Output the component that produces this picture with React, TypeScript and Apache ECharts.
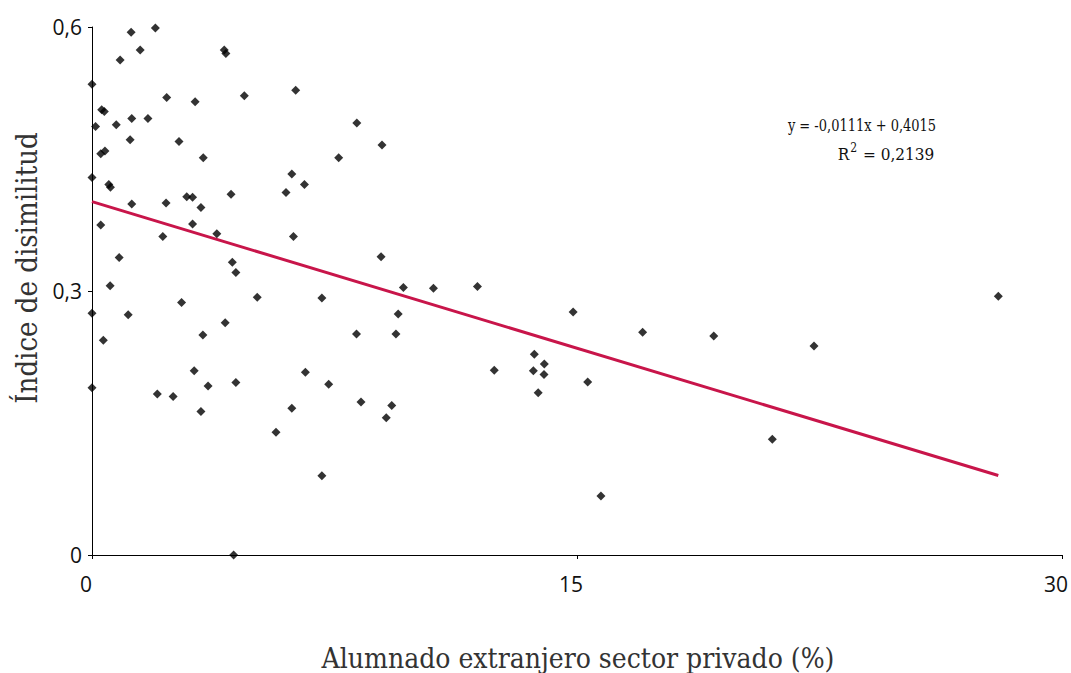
import React, { useEffect, useRef } from "react";
import * as echarts from "echarts";

const pointsX = [
  1.21, 1.96, 1.49, 0.87, 4.09, 4.14, 0.0, 2.31, 3.19, 4.71,
  0.3, 0.38, 0.11, 0.75, 1.23, 1.73, 1.18, 2.69, 0.27, 0.4,
  3.44, 0.0, 0.52, 0.57, 2.93, 3.11, 4.3, 1.23, 2.29, 3.37,
  0.27, 3.11, 2.19, 3.86, 0.84, 4.34, 4.45, 0.56, 5.11, 0.0,
  1.12, 2.77, 4.12, 0.35, 3.43, 3.16, 0.0, 2.02, 2.51, 3.59,
  4.45, 3.37, 4.38, 6.3, 8.19, 8.97, 7.63, 6.18, 6.57, 6.0,
  6.23, 8.94, 9.63, 10.56, 7.11, 9.47, 8.18, 9.4, 6.6, 7.32,
  6.18, 5.69, 8.32, 9.27, 9.1, 7.11, 11.92, 14.88, 17.03, 13.68,
  13.99, 13.65, 13.98, 12.44, 13.8, 15.33, 15.74, 19.23, 22.33, 28.03,
  21.04,
];
const pointsY = [
  0.594, 0.599, 0.574, 0.5625, 0.574, 0.57, 0.535, 0.52, 0.515, 0.522,
  0.506, 0.504, 0.487, 0.489, 0.496, 0.496, 0.472, 0.47, 0.456, 0.459,
  0.4515, 0.429, 0.421, 0.418, 0.407, 0.4065, 0.41, 0.399, 0.4, 0.395,
  0.375, 0.376, 0.362, 0.365, 0.338, 0.3326, 0.321, 0.306, 0.293, 0.2747,
  0.273, 0.287, 0.264, 0.244, 0.25, 0.2094, 0.19, 0.183, 0.18, 0.192,
  0.196, 0.163, 0.0, 0.528, 0.491, 0.466, 0.4515, 0.433, 0.421, 0.412,
  0.362, 0.339, 0.304, 0.303, 0.292, 0.274, 0.251, 0.251, 0.2076, 0.194,
  0.1667, 0.1394, 0.174, 0.17, 0.156, 0.09, 0.305, 0.276, 0.253, 0.228,
  0.217, 0.2094, 0.205, 0.21, 0.1844, 0.1966, 0.067, 0.249, 0.2375, 0.294,
  0.1315,
];

const trendSlope = -0.0111;
const trendIntercept = 0.4015;
const trendXStart = 0;
const trendXEnd = 28.03;
const equationText = "y = -0,0111x + 0,4015";
const r2Value = "0,2139";

const xTicks = [0, 15, 30];
const yTicks = [0, 0.3, 0.6];

const xTitle = "Alumnado extranjero sector privado (%)";
const yTitle = "Índice de disimilitud";

export default function App() {
  const ref = useRef<HTMLDivElement>(null);
  useEffect(() => {
    if (!ref.current) return;
    const chart = echarts.init(ref.current, undefined, { renderer: "svg" });
    const scatterData = pointsX.map((x, i) => [x, pointsY[i]]);
    const trendData = [
      [trendXStart, trendIntercept + trendSlope * trendXStart],
      [trendXEnd, trendIntercept + trendSlope * trendXEnd],
    ];
    const fmt = (v: number) => String(v).replace(".", ",");
    const serif = "'DejaVu Serif Condensed', 'DejaVu Serif', serif";
    const tickFont = "'Open Sans', 'Noto Sans', sans-serif";
    chart.setOption({
      animation: false,
      backgroundColor: "#ffffff",
      grid: { left: 92, top: 27, right: 4, bottom: 118, containLabel: false },
      xAxis: {
        type: "value",
        min: xTicks[0],
        max: xTicks[xTicks.length - 1],
        interval: 15,
        axisLine: { show: true, lineStyle: { color: "#000", width: 1 } },
        axisTick: { show: true, length: 4, lineStyle: { color: "#000" } },
        splitLine: { show: false },
        axisLabel: {
          color: "#111",
          fontSize: 21,
          fontFamily: tickFont,
          margin: 18,
          padding: [0, 12, 0, 0],
          formatter: fmt,
        },
      },
      yAxis: {
        type: "value",
        min: yTicks[0],
        max: yTicks[yTicks.length - 1],
        interval: 0.3,
        axisLine: { show: true, lineStyle: { color: "#000", width: 1 } },
        axisTick: { show: true, length: 4, lineStyle: { color: "#000" } },
        splitLine: { show: false },
        axisLabel: {
          color: "#111",
          fontSize: 21,
          fontFamily: tickFont,
          margin: 10,
          formatter: fmt,
        },
      },
      series: [
        {
          type: "line",
          data: trendData,
          symbol: "none",
          lineStyle: { color: "#C8154A", width: 3 },
          z: 1,
          silent: true,
        },
        {
          type: "scatter",
          data: scatterData,
          symbol: "diamond",
          symbolSize: 9,
          itemStyle: { color: "#000" },
          z: 2,
        },
      ],
      graphic: [
        {
          type: "text",
          x: 578,
          y: 644,
          style: {
            text: xTitle,
            fill: "#333",
            font: `28px ${serif}`,
            textAlign: "center",
            textVerticalAlign: "top",
          },
        },
        {
          type: "text",
          x: 27,
          y: 268,
          rotation: Math.PI / 2,
          style: {
            text: yTitle,
            fill: "#333",
            font: `29px ${serif}`,
            textAlign: "center",
            textVerticalAlign: "middle",
          },
        },
        {
          type: "text",
          x: 862,
          y: 125,
          scaleX: 0.85,
          style: {
            text: equationText,
            fill: "#111",
            font: `17px ${serif}`,
            textAlign: "center",
            textVerticalAlign: "middle",
          },
        },
        {
          type: "text",
          x: 886,
          y: 152,
          style: {
            text: "{n|R}{s|2}{n| = " + r2Value + "}",
            fill: "#111",
            font: `17px ${serif}`,
            textAlign: "center",
            textVerticalAlign: "middle",
            rich: {
              n: { fontSize: 17, fontFamily: serif, fill: "#111", verticalAlign: "bottom" },
              s: { fontSize: 12, fontFamily: serif, fill: "#111", verticalAlign: "top", padding: [0, 1, 8, 1] },
            },
          },
        },
      ],
    });
    return () => chart.dispose();
  }, []);
  return (
    <div
      ref={ref}
      style={{ position: "fixed", left: 0, top: 0, width: 1071, height: 673 }}
    />
  );
}
